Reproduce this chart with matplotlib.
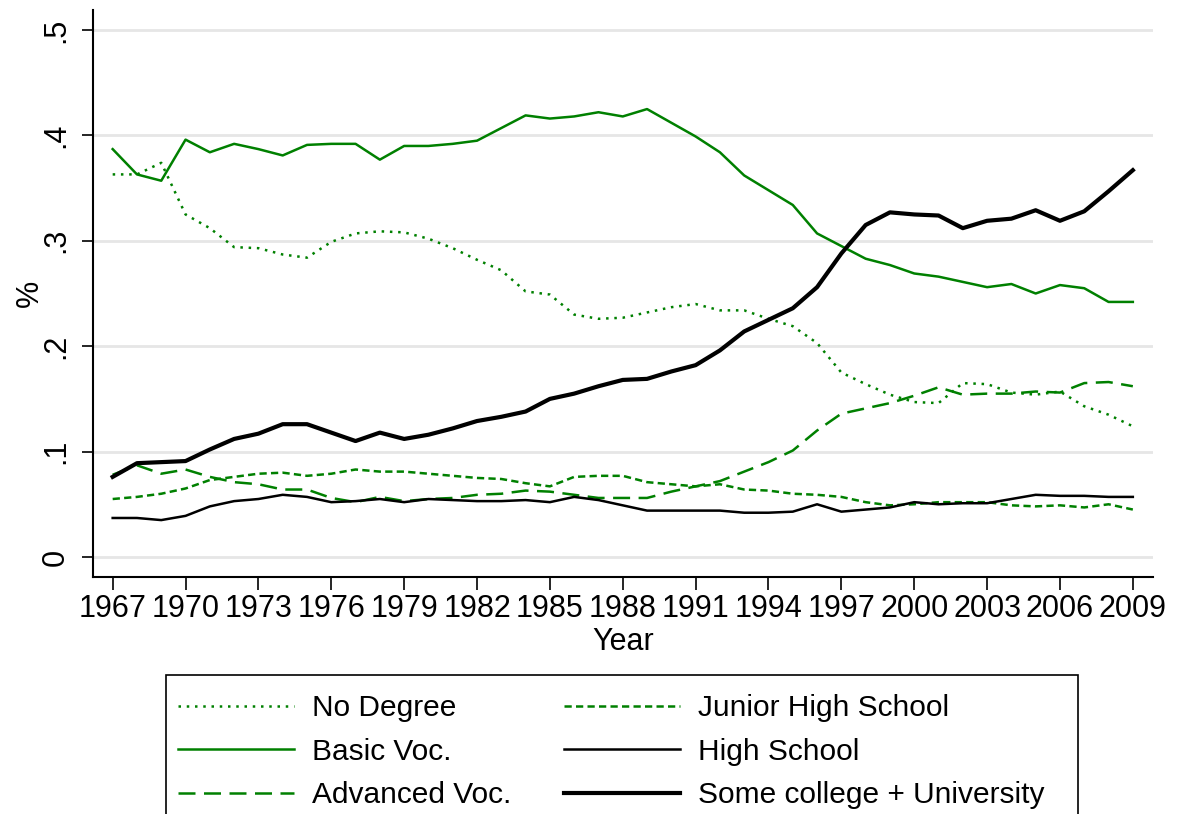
import matplotlib
matplotlib.use('Agg')
import matplotlib.pyplot as plt
from matplotlib.patches import Rectangle
import numpy as np

plt.rcParams['font.family'] = ['Liberation Sans', 'DejaVu Sans']

years = list(range(1967, 2010))

no_degree = [0.363, 0.363, 0.374, 0.325, 0.312, 0.294, 0.293, 0.287, 0.284, 0.299,
             0.307, 0.309, 0.308, 0.302, 0.293, 0.282, 0.272, 0.252, 0.249, 0.230,
             0.226, 0.227, 0.232, 0.237, 0.240, 0.234, 0.234, 0.226, 0.219, 0.203,
             0.175, 0.164, 0.154, 0.147, 0.146, 0.165, 0.164, 0.156, 0.154, 0.157,
             0.143, 0.135, 0.124]

basic_voc = [0.387, 0.363, 0.357, 0.396, 0.384, 0.392, 0.387, 0.381, 0.391, 0.392,
             0.392, 0.377, 0.390, 0.390, 0.392, 0.395, 0.407, 0.419, 0.416, 0.418,
             0.422, 0.418, 0.425, 0.412, 0.399, 0.384, 0.362, 0.348, 0.334, 0.307,
             0.295, 0.283, 0.277, 0.269, 0.266, 0.261, 0.256, 0.259, 0.250, 0.258,
             0.255, 0.242, 0.242]

advanced_voc = [0.078, 0.087, 0.079, 0.083, 0.076, 0.071, 0.069, 0.064, 0.064, 0.056,
                0.052, 0.057, 0.053, 0.055, 0.056, 0.059, 0.060, 0.063, 0.062, 0.059,
                0.056, 0.056, 0.056, 0.062, 0.067, 0.072, 0.081, 0.090, 0.101, 0.120,
                0.136, 0.141, 0.146, 0.153, 0.161, 0.154, 0.155, 0.155, 0.157, 0.156,
                0.165, 0.166, 0.162]

junior_high = [0.055, 0.057, 0.060, 0.065, 0.073, 0.076, 0.079, 0.080, 0.077, 0.079,
               0.083, 0.081, 0.081, 0.079, 0.077, 0.075, 0.074, 0.070, 0.067, 0.076,
               0.077, 0.077, 0.071, 0.069, 0.067, 0.069, 0.064, 0.063, 0.060, 0.059,
               0.057, 0.052, 0.049, 0.050, 0.052, 0.052, 0.052, 0.049, 0.048, 0.049,
               0.047, 0.050, 0.045]

high_school = [0.037, 0.037, 0.035, 0.039, 0.048, 0.053, 0.055, 0.059, 0.057, 0.052,
               0.053, 0.055, 0.052, 0.055, 0.054, 0.053, 0.053, 0.054, 0.052, 0.057,
               0.054, 0.049, 0.044, 0.044, 0.044, 0.044, 0.042, 0.042, 0.043, 0.050,
               0.043, 0.045, 0.047, 0.052, 0.050, 0.051, 0.051, 0.055, 0.059, 0.058,
               0.058, 0.057, 0.057]

college_univ = [0.076, 0.089, 0.090, 0.091, 0.102, 0.112, 0.117, 0.126, 0.126, 0.118,
                0.110, 0.118, 0.112, 0.116, 0.122, 0.129, 0.133, 0.138, 0.150, 0.155,
                0.162, 0.168, 0.169, 0.176, 0.182, 0.196, 0.214, 0.225, 0.236, 0.256,
                0.288, 0.315, 0.327, 0.325, 0.324, 0.312, 0.319, 0.321, 0.329, 0.319,
                0.328, 0.347, 0.367]

x_ticks = list(range(1967, 2010, 3))
y_ticks = [0, 0.1, 0.2, 0.3, 0.4, 0.5]
y_ticklabels = ['0', '.1', '.2', '.3', '.4', '.5']

green = '#008000'
W, H = 1177, 814
fig = plt.figure(figsize=(W / 100, H / 100), dpi=100)
ax = fig.add_axes([93 / W, (H - 577) / H, (1153 - 93) / W, (577 - 10) / H])

ax.set_xlim(1966.19, 2009.83)
ax.set_ylim(-0.019, 0.519)

for v in y_ticks:
    ax.axhline(v, color='#e6e6e6', lw=2, zorder=0)

l1, = ax.plot(years, no_degree, color=green, lw=1.8, ls=(0, (1, 2.3)), label='No Degree')
l2, = ax.plot(years, basic_voc, color=green, lw=1.8, ls='-', label='Basic Voc.')
l3, = ax.plot(years, advanced_voc, color=green, lw=1.8, ls=(0, (6.8, 3.4)), label='Advanced Voc.')
l4, = ax.plot(years, junior_high, color=green, lw=1.8, ls=(0, (2.9, 1.7)), label='Junior High School')
l5, = ax.plot(years, high_school, color='black', lw=1.8, ls='-', label='High School')
l6, = ax.plot(years, college_univ, color='black', lw=3.0, ls='-', label='Some college + University')

ax.spines['top'].set_visible(False)
ax.spines['right'].set_visible(False)
for s in ['left', 'bottom']:
    ax.spines[s].set_linewidth(1.5)

ax.set_xticks(x_ticks)
ax.set_xticklabels([str(y) for y in x_ticks], fontsize=22)
ax.set_yticks(y_ticks)
ax.set_yticklabels(y_ticklabels, fontsize=22, rotation=90, va='center')
ax.tick_params(axis='x', length=9.5, width=1.2, pad=3)
ax.tick_params(axis='y', length=8, width=1.2, pad=8)

ax.set_xlabel('Year', fontsize=22, labelpad=2)
ax.set_ylabel('%', fontsize=22, labelpad=-3)

# legend frame runs past the bottom edge of the figure
fig.patches.append(Rectangle((166 / W, -0.05), (1078 - 166) / W, (H - 675) / H + 0.05,
                             transform=fig.transFigure, fill=False,
                             edgecolor='black', lw=1.2))
fig.legend([l1, l2, l3, l4, l5, l6],
           [l.get_label() for l in [l1, l2, l3, l4, l5, l6]],
           ncol=2, loc='upper left', bbox_to_anchor=(178 / W, (H - 694) / H),
           frameon=False, fontsize=21.5, borderpad=0, borderaxespad=0,
           handlelength=3.9, handletextpad=0.6, columnspacing=1.75,
           labelspacing=0.52)

fig.savefig('out.png', dpi=100, facecolor='white')
